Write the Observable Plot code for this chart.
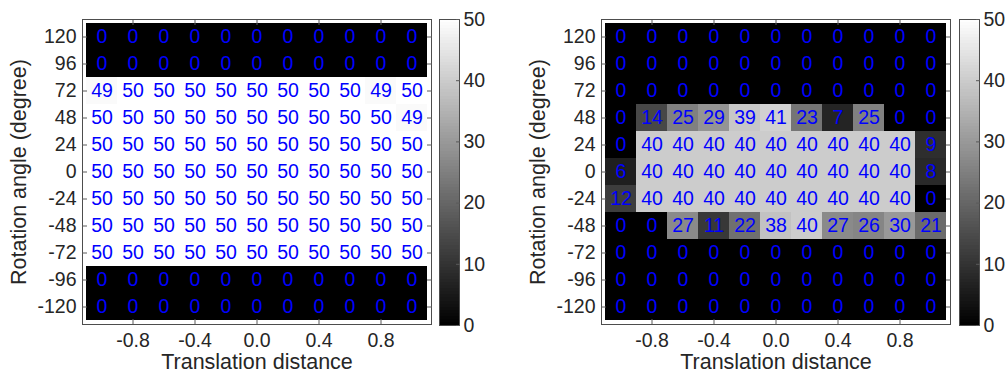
<!DOCTYPE html>
<html><head><meta charset="utf-8">
<script src="https://cdn.jsdelivr.net/npm/d3@7"></script>
<script src="https://cdn.jsdelivr.net/npm/@observablehq/plot@0.6"></script>
<style>
body{margin:0;background:#fff;}
#chart{position:relative;width:1007px;height:373px;overflow:hidden;font-family:"Liberation Sans",Arial,sans-serif;}
#chart svg{position:absolute;top:0;}
</style></head><body><div id="chart"></div>
<script>
const xValues = [-1.0, -0.8, -0.6, -0.4, -0.2, 0.0, 0.2, 0.4, 0.6, 0.8, 1.0];
const yValues = [120, 96, 72, 48, 24, 0, -24, -48, -72, -96, -120];
const xTickValues = [-0.8, -0.4, 0.0, 0.4, 0.8];
const colorbarTicks = [0, 10, 20, 30, 40, 50];
const xLabel = "Translation distance";
const yLabel = "Rotation angle (degree)";

const leftCounts = [
  [0,0,0,0,0,0,0,0,0,0,0],
  [0,0,0,0,0,0,0,0,0,0,0],
  [49,50,50,50,50,50,50,50,50,49,50],
  [50,50,50,50,50,50,50,50,50,50,49],
  [50,50,50,50,50,50,50,50,50,50,50],
  [50,50,50,50,50,50,50,50,50,50,50],
  [50,50,50,50,50,50,50,50,50,50,50],
  [50,50,50,50,50,50,50,50,50,50,50],
  [50,50,50,50,50,50,50,50,50,50,50],
  [0,0,0,0,0,0,0,0,0,0,0],
  [0,0,0,0,0,0,0,0,0,0,0]
];
const rightCounts = [
  [0,0,0,0,0,0,0,0,0,0,0],
  [0,0,0,0,0,0,0,0,0,0,0],
  [0,0,0,0,0,0,0,0,0,0,0],
  [0,14,25,29,39,41,23,7,25,0,0],
  [0,40,40,40,40,40,40,40,40,40,9],
  [6,40,40,40,40,40,40,40,40,40,8],
  [12,40,40,40,40,40,40,40,40,40,0],
  [0,0,27,11,22,38,40,27,26,30,21],
  [0,0,0,0,0,0,0,0,0,0,0],
  [0,0,0,0,0,0,0,0,0,0,0],
  [0,0,0,0,0,0,0,0,0,0,0]
];
const colorbarLevels = d3.range(0, 50, 0.5);

const textColor = "#262626";
const tickColor = "#5a5a5a";
const frameColor = "#4d4d4d";
const colorScale = {type: "linear", domain: [0, 50], range: ["#000000", "#ffffff"], interpolate: "rgb"};
const svgStyle = {fontFamily: "'Liberation Sans', Arial, sans-serif", fontSize: "19.5px", background: "transparent", overflow: "visible", maxWidth: "none"};

function heatmap(counts) {
  const data = [];
  yValues.forEach((y, i) => xValues.forEach((x, j) => data.push({x, y, v: counts[i][j]})));
  return Plot.plot({
    width: 436, height: 373,
    marginLeft: 82, marginRight: 5, marginTop: 19, marginBottom: 49,
    style: svgStyle,
    x: {type: "band", domain: xValues, padding: 0, label: null},
    y: {type: "band", domain: yValues, padding: 0, label: null},
    color: colorScale,
    marks: [
      Plot.cell(data, {x: "x", y: "y", fill: "v", inset: 0, shapeRendering: "crispEdges"}),
      Plot.text(data, {x: "x", y: "y", text: d => String(d.v), fill: "#0000ff", fontSize: 19.5}),
      Plot.frame({stroke: frameColor}),
      Plot.axisX({anchor: "bottom", ticks: xTickValues, tickFormat: d => d.toFixed(1), tickSize: -5, tickPadding: 14, fontSize: 19.5, stroke: tickColor, fill: textColor, label: null}),
      Plot.axisX({anchor: "top", ticks: xTickValues, tickFormat: () => "", tickSize: -5, tickPadding: 0, stroke: tickColor, label: null}),
      Plot.axisY({anchor: "left", ticks: yValues, tickFormat: d => String(d), tickSize: -5, tickPadding: 11, fontSize: 19.5, stroke: tickColor, fill: textColor, label: null}),
      Plot.axisY({anchor: "right", ticks: yValues, tickFormat: () => "", tickSize: -5, tickPadding: 0, stroke: tickColor, label: null}),
      Plot.text([yLabel], {frameAnchor: "left", dx: -63, rotate: -90, textAnchor: "middle", lineAnchor: "middle", fontSize: 21.5, fill: textColor}),
      Plot.text([xLabel], {frameAnchor: "bottom", dy: 38, textAnchor: "middle", lineAnchor: "middle", fontSize: 21.5, fill: textColor})
    ]
  });
}

function colorbar() {
  return Plot.plot({
    width: 48, height: 373,
    marginLeft: 0, marginRight: 28, marginTop: 19, marginBottom: 48,
    style: svgStyle,
    y: {domain: [0, 50], label: null},
    color: colorScale,
    marks: [
      Plot.rect(colorbarLevels, {y1: d => d, y2: d => d + 0.5, fill: d => d + 0.25, shapeRendering: "crispEdges"}),
      Plot.frame({stroke: frameColor}),
      Plot.axisY({anchor: "right", ticks: colorbarTicks, tickSize: -4, tickPadding: 8, fontSize: 19.5, stroke: tickColor, fill: textColor, label: null})
    ]
  });
}

const chart = document.getElementById("chart");
const parts = [[heatmap(leftCounts), 0], [colorbar(), 439], [heatmap(rightCounts), 519], [colorbar(), 959]];
for (const [svg, left] of parts) {
  svg.style.left = left + "px";
  chart.appendChild(svg);
}
</script></body></html>
